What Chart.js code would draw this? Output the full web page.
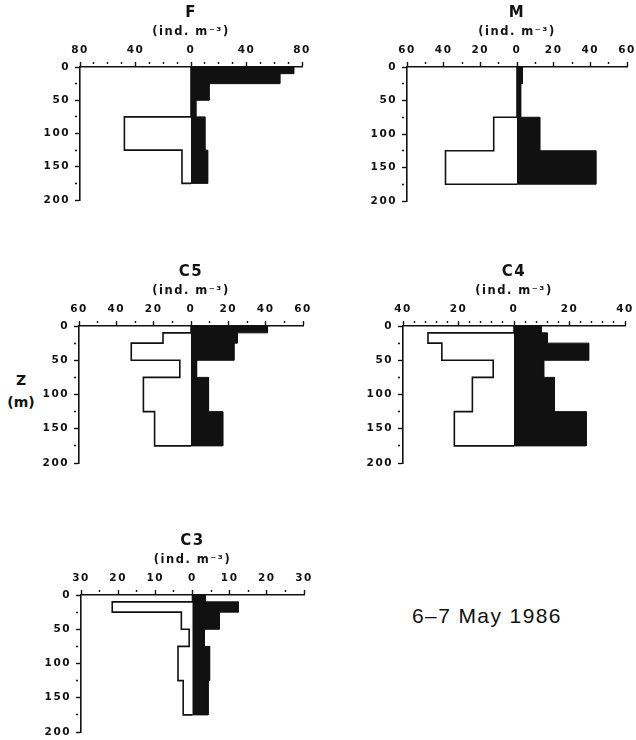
<!DOCTYPE html>
<html>
<head>
<meta charset="utf-8">
<script src="https://cdn.jsdelivr.net/npm/chart.js@4.4.1/dist/chart.umd.min.js"></script>
<style>
    body {margin: 0; background: #fff; width: 636px; height: 740px; position: relative; overflow: hidden;}
    canvas {position: absolute;}
    #zlabel {position: absolute; left: 5px; top: 369px; width: 32px; text-align: center;
             font: bold 14px "DejaVu Sans"; line-height: 22px; color: #111;}
    #date {position: absolute; left: 412px; top: 605px; font: 21px "Liberation Sans";
           line-height: 21px; letter-spacing: 1.4px; color: #111; white-space: nowrap;}
</style>
</head>
<body>
<div id="zlabel">Z<br>(m)</div>
<div id="date">6–7 May 1986</div>
<canvas id="chart_f"></canvas>
<canvas id="chart_m"></canvas>
<canvas id="chart_c5"></canvas>
<canvas id="chart_c4"></canvas>
<canvas id="chart_c3"></canvas>
<script>
//--------------------------------------------------------------------------------
//--- Input data: depth strata (m) and abundance (ind. m-3) per stratum
//--------------------------------------------------------------------------------

var depthEdges = [0, 10, 25, 50, 75, 125, 175];

// black = right-hand profile, white = left-hand profile
var fBlack  = [74, 64, 13, 3.5, 10, 12];
var fWhite  = [0, 0, 0, 0, 48, 6.5];
var mBlack  = [3, 3, 2, 2, 12.4, 43];
var mWhite  = [0, 0, 0, 0, 12.7, 39];
var c5Black = [41, 24.8, 23, 3, 9.4, 17];
var c5White = [0, 15, 32, 6, 25.5, 19.5];
var c4Black = [9.8, 12, 26.9, 10.7, 14.6, 26];
var c4White = [0, 31, 26, 7.5, 15, 21.5];
var c3Black = [3.5, 12.3, 7.2, 3.2, 4.6, 4.2];
var c3White = [0, 21.6, 3, 0.9, 3.9, 2.5];

// axis ranges: [max, labelled step, minor step]
var fAxis  = [80, 40, 10];
var mAxis  = [60, 20, 10];
var c5Axis = [60, 20, 10];
var c4Axis = [40, 20, 4];
var c3Axis = [30, 10, 5];

var depthMax = 200, depthLabelStep = 50, depthMinorStep = 25;

//----------------------------------------
//--- Layout (chart area left, top, right, bottom in page px)
//----------------------------------------

var Y_AXIS_W = 40, HEADER_H = 67, TITLES_H = 40.8, PAD_R = 14, PAD_B = 8;

var panels = [
    {id: 'chart_f',  title: 'F',  black: fBlack,  white: fWhite,  axis: fAxis,  area: [80, 67, 302, 200]},
    {id: 'chart_m',  title: 'M',  black: mBlack,  white: mWhite,  axis: mAxis,  area: [407, 67, 627, 201]},
    {id: 'chart_c5', title: 'C5', black: c5Black, white: c5White, axis: c5Axis, area: [79, 326, 303, 463]},
    {id: 'chart_c4', title: 'C4', black: c4Black, white: c4White, axis: c4Axis, area: [403, 326, 625, 463]},
    {id: 'chart_c3', title: 'C3', black: c3Black, white: c3White, axis: c3Axis, area: [81, 595, 304, 732]}
];

var INK = '#111';
var tickFont = {family: 'DejaVu Sans', size: 10.5, weight: 'bold'};

function profilePoints(values, side) {
    var pts = [{x: 0, y: depthEdges[0]}];
    for (var i = 0; i < values.length; i++) {
        pts.push({x: side * values[i], y: depthEdges[i]});
        pts.push({x: side * values[i], y: depthEdges[i + 1]});
    }
    pts.push({x: 0, y: depthEdges[depthEdges.length - 1]});
    return pts;
}

function isMultiple(v, step) {
    var r = Math.abs(v / step - Math.round(v / step));
    return r < 1e-6;
}

// the reference uses widely spaced lettering
var spacingPlugin = {
    id: 'spacing',
    beforeLayout: function (chart) { chart.ctx.letterSpacing = '1.5px'; },
    beforeDraw: function (chart) { chart.ctx.letterSpacing = '1.5px'; }
};

panels.forEach(function (p) {
    var canvas = document.getElementById(p.id);
    var L = p.area[0], T = p.area[1], R = p.area[2], B = p.area[3];
    var w = R - L + Y_AXIS_W + PAD_R, h = HEADER_H + (B - T) + PAD_B;
    canvas.width = w; canvas.height = h;
    canvas.style.left = (L - Y_AXIS_W) + 'px';
    canvas.style.top = (T - HEADER_H) + 'px';
    canvas.style.width = w + 'px'; canvas.style.height = h + 'px';

    var max = p.axis[0], major = p.axis[1], minor = p.axis[2];

    new Chart(canvas.getContext('2d'), {
        type: 'line',
        plugins: [spacingPlugin],
        data: {
            datasets: [{
                label: 'black', data: profilePoints(p.black, 1),
                borderColor: INK, backgroundColor: INK, borderWidth: 1,
                fill: 'origin', pointRadius: 0, tension: 0
            }, {
                label: 'white', data: profilePoints(p.white, -1),
                borderColor: INK, backgroundColor: '#fff', borderWidth: 1.6,
                fill: 'origin', pointRadius: 0, tension: 0
            }]
        },
        options: {
            responsive: false, animation: false, indexAxis: 'y',
            layout: {padding: {left: 0, right: PAD_R, top: 0, bottom: PAD_B}},
            scales: {
                x: {
                    type: 'linear', position: 'top', min: -max, max: max,
                    afterFit: function (s) { s.height = HEADER_H - TITLES_H; },
                    border: {display: true, color: INK, width: 1.6},
                    grid: {
                        drawOnChartArea: false, drawTicks: true, tickLength: 5,
                        tickColor: INK, tickWidth: 1.4,
                        tickBorderDash: function (c) { return isMultiple(c.tick.value, major) ? [] : [2, 20]; }
                    },
                    ticks: {
                        stepSize: minor, autoSkip: false, maxRotation: 0, padding: 5,
                        color: INK, font: tickFont,
                        callback: function (v) { return isMultiple(v, major) ? String(Math.abs(v)) : ''; }
                    }
                },
                y: {
                    type: 'linear', position: 'left', reverse: true, min: 0, max: depthMax,
                    afterFit: function (s) { s.width = Y_AXIS_W; s.paddingTop = 0; s.paddingBottom = 0; },
                    border: {display: true, color: INK, width: 1.6},
                    grid: {
                        drawOnChartArea: false, drawTicks: true, tickLength: 5,
                        tickColor: INK, tickWidth: 1.4,
                        tickBorderDash: function (c) { return isMultiple(c.tick.value, depthLabelStep) ? [] : [2, 20]; }
                    },
                    ticks: {
                        stepSize: depthMinorStep, autoSkip: false, padding: 5,
                        color: INK, font: tickFont,
                        callback: function (v) { return isMultiple(v, depthLabelStep) ? String(v) : ''; }
                    }
                }
            },
            plugins: {
                legend: {display: false},
                tooltip: {enabled: false},
                title: {
                    display: true, text: p.title, fullSize: false, color: INK,
                    font: {family: 'DejaVu Sans', size: 15, weight: 'bold'},
                    padding: {top: 4, bottom: 1}
                },
                subtitle: {
                    display: true, text: '(ind. m⁻³)', fullSize: false, color: INK,
                    font: {family: 'DejaVu Sans', size: 11.5, weight: 'bold'},
                    padding: {top: 2, bottom: 2}
                }
            }
        }
    });
});
</script>
</body>
</html>
